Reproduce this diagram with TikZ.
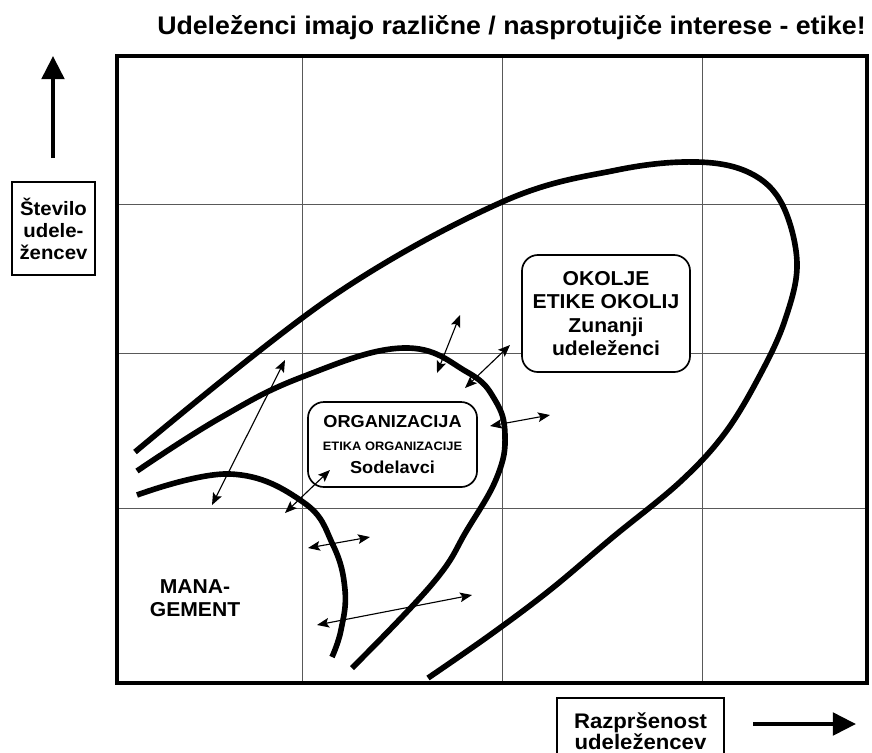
\documentclass[tikz,border=0pt]{standalone}
\usepackage{fontspec}
\setmainfont{Liberation Sans}[FakeStretch=1.05]
\usetikzlibrary{arrows.meta}

\begin{document}
\begin{tikzpicture}[
    x=0.025cm, y=-0.025cm,
    font=\bfseries\fontsize{14.3}{16.6}\selectfont,
    band/.style = {line width=4pt, smooth, tension=0.7},
    gridline/.style = {draw=black!65, line width=0.6pt},
    link/.style = {{Stealth[length=3mm, width=2.4mm, inset=0.6mm]}-{Stealth[length=3mm, width=2.4mm, inset=0.6mm]}, line width=0.8pt},
    axis/.style = {-{Triangle[length=5.8mm, width=5.6mm]}, line width=3pt},
    sector/.style = {draw, line width=1.2pt, rounded corners=0.4cm, fill=white, align=center, inner sep=0pt},
    axislabel/.style = {draw, line width=1.2pt, fill=white, align=center, inner sep=0pt}
    ]
    \useasboundingbox (0,0) rectangle (872,752);
    \clip (0,0) rectangle (872,752);

    % Grid and frame
    \draw[gridline] (302,56) -- (302,683);
    \draw[gridline] (502,56) -- (502,683);
    \draw[gridline] (702,56) -- (702,683);
    \draw[gridline] (117,204) -- (867,204);
    \draw[gridline] (117,353) -- (867,353);
    \draw[gridline] (117,508) -- (867,508);
    \draw[line width=2.5pt] (117,56) rectangle (867,683);

    % Title
    \node[font=\bfseries\fontsize{18.1}{20}\selectfont, anchor=base east, inner sep=0pt] (title) at (866,34)
        {Udeleženci imajo različne / nasprotujiče interese - etike!};

    % Axes
    \coordinate (y from) at (53,158);
    \coordinate (y to)   at (53,56);
    \coordinate (x from) at (753,724);
    \coordinate (x to)   at (856,724);
    \draw[axis] (y from) -- (y to);
    \draw[axis] (x from) -- (x to);

    \node[axislabel, font=\bfseries\fontsize{13.8}{15.6}\selectfont,
          minimum width=2.075cm, minimum height=2.325cm] (stevilo) at (53.5,228.5)
        {Število\\udele-\\žencev};
    \node[axislabel, font=\bfseries\fontsize{15}{14.2}\selectfont,
          minimum width=4.175cm, minimum height=1.65cm] (razprsenost) at (640.5,731)
        {Razpršenost\\udeležencev};

    % Bands: environment, organization, management
    \draw[band, tension=0.6] plot coordinates {(135,452) (330,298) (502,202) (617,170) (697,162)
        (750,173) (782,204) (797,263) (785,320) (760,375) (725,433) (680,482) (613,537)
        (550,590) (490,635) (428,678)};
    \draw[band] plot coordinates {(137,471) (220,418) (302,377) (403,348) (467,372) (495,400)
        (505,435) (497,477) (467,530) (433,583) (352,668)};
    \draw[band] plot coordinates {(137,495) (230,474) (303,502) (333,545) (345,590) (341,630) (332,657)};

    % Sectors
    \node[sector, minimum width=4.2cm, minimum height=2.925cm] (box env) at (606,313.5)
        {OKOLJE\\ETIKE OKOLIJ\\Zunanji\\udeleženci};
    \node[sector, minimum width=4.225cm, minimum height=2.125cm] (box org) at (392.5,444.5)
        {\fontsize{12.3}{12}\selectfont ORGANIZACIJA\\
         \fontsize{8.7}{12.5}\selectfont ETIKA ORGANIZACIJE\\
         \fontsize{12.3}{14.5}\selectfont Sodelavci};
    \node[align=center, inner sep=0pt] (mgmt) at (195,598) {MANA-\\GEMENT};

    % Interactions across the bands
    \coordinate (arr1 a) at (285,360);  \coordinate (arr1 b) at (212,505);
    \coordinate (arr2 a) at (460,315);  \coordinate (arr2 b) at (437,373);
    \coordinate (arr3 a) at (510,345);  \coordinate (arr3 b) at (465,388);
    \coordinate (arr4 a) at (490,426);  \coordinate (arr4 b) at (550,415);
    \coordinate (arr5 a) at (330,470);  \coordinate (arr5 b) at (285,513);
    \coordinate (arr6 a) at (308,548);  \coordinate (arr6 b) at (370,537);
    \coordinate (arr7 a) at (317,625);  \coordinate (arr7 b) at (472,595);

    \path [link] (arr1 a) edge (arr1 b);
    \path [link] (arr2 a) edge (arr2 b);
    \path [link] (arr3 a) edge (arr3 b);
    \path [link] (arr4 a) edge (arr4 b);
    \path [link] (arr5 a) edge (arr5 b);
    \path [link] (arr6 a) edge (arr6 b);
    \path [link] (arr7 a) edge (arr7 b);
\end{tikzpicture}
\end{document}
